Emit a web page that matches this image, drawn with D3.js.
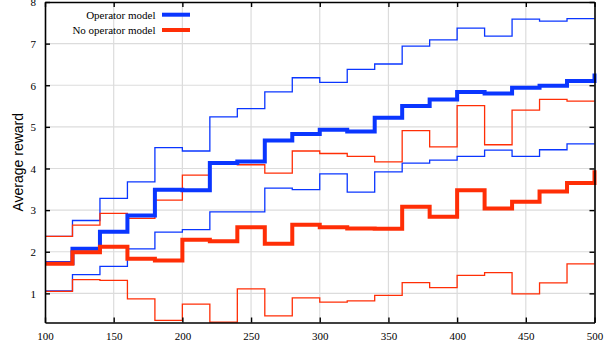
<!DOCTYPE html>
<html><head><meta charset="utf-8">
<script src="https://cdn.jsdelivr.net/npm/d3@7"></script>
<style>html,body{margin:0;padding:0;background:#fff;}svg{display:block;}</style>
</head><body><svg id="c" width="607" height="347"></svg>
<script>
// Episode bin starts (step-after); last point at 500 closes the step
const xs = [100,120,140,160,180,200,220,240,260,280,300,320,340,360,380,400,420,440,460,480,500];
const opMean  = [1.73,2.07,2.48,2.87,3.49,3.48,4.13,4.17,4.67,4.83,4.93,4.89,5.22,5.50,5.66,5.84,5.80,5.94,5.99,6.10,6.28];
const opHigh  = [2.37,2.75,3.28,3.68,4.50,4.42,5.24,5.44,5.84,6.18,6.07,6.38,6.51,6.94,7.09,7.37,7.18,7.59,7.54,7.60,7.60];
const opLow   = [1.06,1.45,1.65,2.07,2.47,2.53,2.96,2.96,3.53,3.49,3.87,3.43,3.92,4.13,4.20,4.29,4.44,4.29,4.45,4.59,4.59];
const noMean  = [1.71,1.99,2.12,1.83,1.79,2.29,2.25,2.59,2.19,2.65,2.59,2.56,2.55,3.08,2.84,3.48,3.04,3.20,3.45,3.65,3.96];
const noHigh  = [2.37,2.64,2.92,2.80,3.24,3.84,4.16,4.09,3.89,4.42,4.36,4.29,4.16,4.91,4.52,5.51,4.57,5.40,5.66,5.62,5.62];
const noLow   = [1.05,1.33,1.31,0.87,0.35,0.74,0.31,1.11,0.46,0.89,0.79,0.82,0.95,1.26,1.14,1.43,1.50,0.99,1.25,1.71,1.71];
const xTicks = [100,150,200,250,300,350,400,450,500];
const yTicks = [1,2,3,4,5,6,7,8];
const legendLabels = ["Operator model","No operator model"];

const BLUE = "#0a36ff", RED = "#ff2e06";
const svg = d3.select("#c");
const L=45, R=594.5, T=2, B=322.5;
const x = d3.scaleLinear().domain([100,500]).range([L,R]);
const y = d3.scaleLinear().domain([0.3,8]).range([B,T]);

// grid
svg.append("g").selectAll("line").data(xTicks.slice(1,-1)).join("line")
  .attr("x1",d=>x(d)).attr("x2",d=>x(d)).attr("y1",T).attr("y2",B)
  .attr("stroke","#dcdcdc").attr("stroke-width",1.2);
svg.append("g").selectAll("line").data(yTicks.slice(0,-1)).join("line")
  .attr("y1",d=>y(d)).attr("y2",d=>y(d)).attr("x1",L).attr("x2",R)
  .attr("stroke","#dcdcdc").attr("stroke-width",1.2);

// series
const line = d3.line().x((d,i)=>x(xs[i])).y(d=>y(d)).curve(d3.curveStepAfter);
const series = [
  {v:opHigh,c:BLUE,w:1.3},{v:opLow,c:BLUE,w:1.3},
  {v:noHigh,c:RED,w:1.3},{v:noLow,c:RED,w:1.3},
  {v:opMean,c:BLUE,w:4},{v:noMean,c:RED,w:4}
];
svg.append("g").selectAll("path").data(series).join("path")
  .attr("d",d=>line(d.v)).attr("fill","none").attr("stroke",d=>d.c)
  .attr("stroke-width",d=>d.w).attr("stroke-linejoin","miter");

// axes
const fontSerif = "'Liberation Serif','Times New Roman',serif";
const axB = svg.append("g").attr("transform",`translate(0,${B})`)
  .call(d3.axisBottom(x).tickValues(xTicks).tickSizeInner(-5).tickSizeOuter(0).tickPadding(10));
const axT = svg.append("g").attr("transform",`translate(0,${T})`)
  .call(d3.axisTop(x).tickValues(xTicks).tickSizeInner(-5).tickSizeOuter(0).tickFormat(""));
const axL = svg.append("g").attr("transform",`translate(${L},0)`)
  .call(d3.axisLeft(y).tickValues(yTicks).tickSizeInner(-5).tickSizeOuter(0).tickPadding(9));
const axR = svg.append("g").attr("transform",`translate(${R},0)`)
  .call(d3.axisRight(y).tickValues(yTicks).tickSizeInner(-5).tickSizeOuter(0).tickFormat(""));
[axB,axT,axL,axR].forEach(a=>{
  a.selectAll(".domain").attr("stroke","#000").attr("stroke-width",1.6);
  a.selectAll(".tick line").attr("stroke","#000").attr("stroke-width",1.4);
  a.selectAll("text").attr("font-family",fontSerif).attr("font-size",11).attr("fill","#000");
});
axL.selectAll(".tick text").attr("dy","0.35em");

// y title
svg.append("text").attr("transform",`translate(23,${(T+B)/2}) rotate(-90)`)
  .attr("text-anchor","middle").attr("font-family","'Liberation Sans',Arial,sans-serif")
  .attr("font-size",14).text("Average reward");

// legend
const lg = svg.append("g");
legendLabels.forEach((t,i)=>{
  const yy = 14.7 + i*15.3;
  lg.append("text").attr("x",155.5).attr("y",yy+3.8).attr("text-anchor","end")
    .attr("font-family",fontSerif).attr("font-size",11).text(t);
  lg.append("line").attr("x1",162).attr("x2",190).attr("y1",yy).attr("y2",yy)
    .attr("stroke",i===0?BLUE:RED).attr("stroke-width",4);
});
</script></body></html>
